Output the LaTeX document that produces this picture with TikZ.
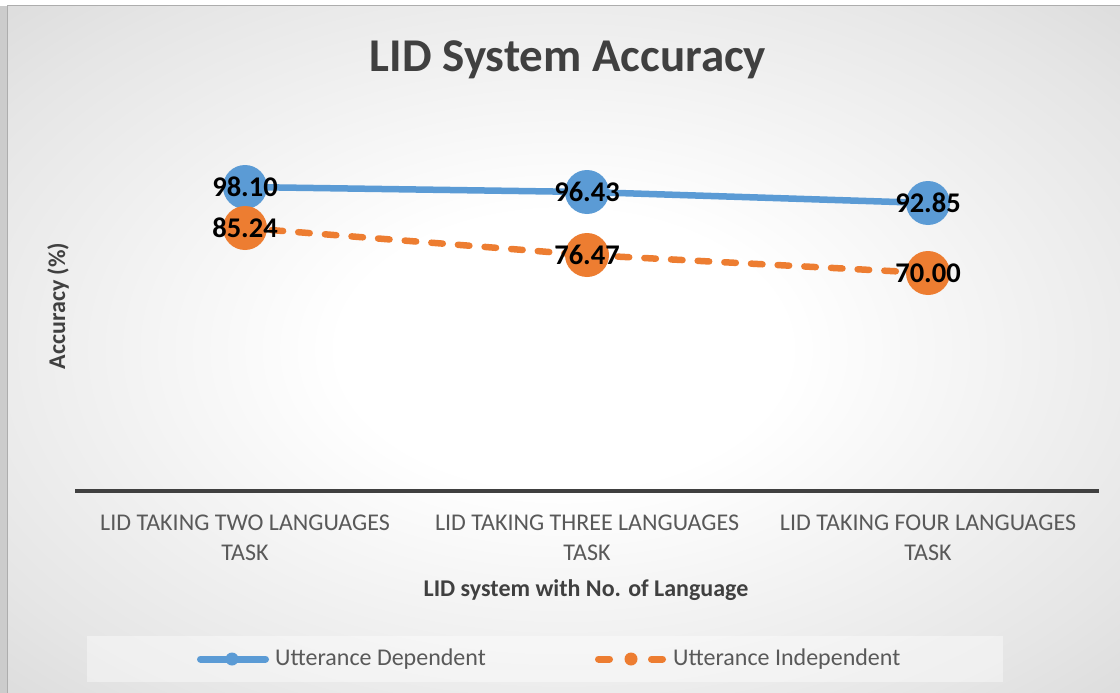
\documentclass[tikz,border=0pt]{standalone}
\usepackage{fontspec}
\setmainfont{Carlito}
\usepackage{tikz}
\usetikzlibrary{positioning}

\pgfdeclarelayer{back}
\pgfdeclarelayer{lines}
\pgfsetlayers{back,lines,main}

\pgfdeclareradialshading{chartbg}{\pgfpoint{0bp}{0bp}}{color(0bp)=(white); color(10bp)=(white); color(30bp)=(black!10); color(45bp)=(black!19); color(72bp)=(black!29)}

\definecolor{udblue}{HTML}{5B9BD5}
\definecolor{uiorange}{HTML}{ED7D31}
\definecolor{axisgrey}{HTML}{404040}
\definecolor{txtgrey}{HTML}{595959}

\tikzset{
  udmark/.style={circle, fill=udblue, minimum size=44pt, inner sep=0pt},
  uimark/.style={circle, fill=uiorange, minimum size=44pt, inner sep=0pt},
  udline/.style={udblue, line width=6.5pt, line cap=round},
  uiline/.style={uiorange, line width=6.5pt, line cap=round, dash pattern=on 11.5pt off 15.2pt},
  vallabel/.style={font=\fontsize{28.5}{30}\selectfont\bfseries, text=black, inner sep=0pt},
  catlabel/.style={font=\fontsize{24}{30}\selectfont, text=txtgrey, align=center},
  axtitle/.style={font=\fontsize{24}{28}\selectfont\bfseries, text=axisgrey},
  legtext/.style={font=\fontsize{24}{28}\selectfont, text=txtgrey, inner sep=0pt}
}

\begin{document}
\begin{tikzpicture}[x=1pt, y=-1pt]
    \useasboundingbox (0,0) rectangle (1120,693);
    \begin{pgfonlayer}{back}
    \fill[black!20] (0,6) rectangle (7,693);
    \shade[shading=chartbg] (7,6) rectangle (1120,693);
    \draw[black!32, line width=1pt] (7,693) -- (7,6) -- (1120,6);
    \end{pgfonlayer}

    % title and axis titles
    \node[font=\fontsize{47}{50}\selectfont\bfseries, text=axisgrey] (title) at (568,60) {LID System Accuracy};
    \node[axtitle, rotate=90] (ytitle) at (58,306) {Accuracy (\%)};
    \node[axtitle] (xtitle) at (586,590) {LID system with No. of Language};

    % category axis
    \coordinate (axL) at (75,491);
    \coordinate (axR) at (1099,491);
    \draw[axisgrey, line width=4pt] (axL) -- (axR);
    \node[catlabel] (cat1) at (245,538) {LID TAKING TWO LANGUAGES\\TASK};
    \node[catlabel] (cat2) at (587,538) {LID TAKING THREE LANGUAGES\\TASK};
    \node[catlabel] (cat3) at (928,538) {LID TAKING FOUR LANGUAGES\\TASK};

    % markers
    \node[udmark] (u1) at (245,187) {};
    \node[udmark] (u2) at (587,192) {};
    \node[udmark] (u3) at (928,203) {};
    \node[uimark] (i1) at (245,228) {};
    \node[uimark] (i2) at (587,255) {};
    \node[uimark] (i3) at (928,273) {};

    % series lines
    \begin{pgfonlayer}{lines}
    \draw[udline] (u1.center) -- (u2.center) -- (u3.center);
    \draw[uiline] (i1.center) -- (i2.center) -- (i3.center);
    \end{pgfonlayer}

    % data labels
    \node[vallabel] (lu1) at (u1) {98.10};
    \node[vallabel] (lu2) at (u2) {96.43};
    \node[vallabel] (lu3) at (u3) {92.85};
    \node[vallabel] (li1) at (i1) {85.24};
    \node[vallabel] (li2) at (i2) {76.47};
    \node[vallabel] (li3) at (i3) {70.00};

    % legend
    \begin{pgfonlayer}{lines}
    \fill[white, opacity=0.4] (87,636) rectangle (1003,682);
    \end{pgfonlayer}
    \coordinate (udA) at (200.5,659);
    \coordinate (udB) at (265.5,659);
    \draw[udline, line width=7pt] (udA) -- (udB);
    \node[udmark, minimum size=13pt] (udkey) at (232,659) {};
    \node[legtext, anchor=west] (udtext) at (275,659) {Utterance Dependent};
    \coordinate (uiA) at (598.5,659);
    \coordinate (uiB) at (663.5,659);
    \draw[uiline, line width=7pt, dash pattern=on 11pt off 42pt] (uiA) -- (uiB);
    \node[uimark, minimum size=13pt] (uikey) at (631,659) {};
    \node[legtext, anchor=west] (uitext) at (673,659) {Utterance Independent};
\end{tikzpicture}
\end{document}
